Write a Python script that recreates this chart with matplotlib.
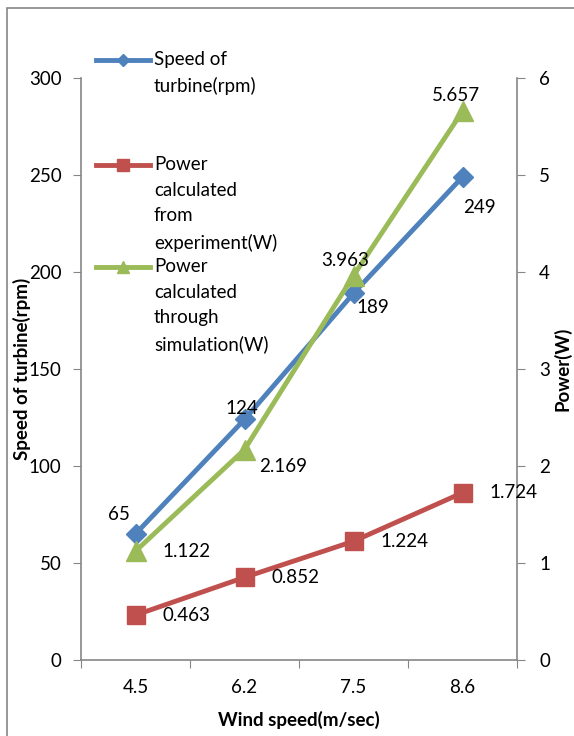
import matplotlib
matplotlib.use("Agg")
import matplotlib.pyplot as plt
from matplotlib.lines import Line2D
from matplotlib.patches import Rectangle

categories = ["4.5", "6.2", "7.5", "8.6"]
speed_rpm = [65, 124, 189, 249]
power_exp = [0.463, 0.852, 1.224, 1.724]
power_sim = [1.122, 2.169, 3.963, 5.657]
speed_labels = ["65", "124", "189", "249"]
exp_labels = ["0.463", "0.852", "1.224", "1.724"]
sim_labels = ["1.122", "2.169", "3.963", "5.657"]
legend_names = ["Speed of\nturbine(rpm)",
                "Power\ncalculated\nfrom\nexperiment(W)",
                "Power\ncalculated\nthrough\nsimulation(W)"]

BLUE = "#4F81BD"
RED = "#C0504D"
GREEN = "#9BBB59"
GRAY = "#868686"

plt.rcParams['font.family'] = ['Lato', 'DejaVu Sans']
FS = 13.5

fig = plt.figure(figsize=(5.74, 7.36), dpi=100)
W, H = 574, 736
ax = fig.add_axes([81 / W, 1 - 660 / H, (517 - 81) / W, (660 - 78) / H])
ax2 = ax.twinx()

x = [i + 0.5 for i in range(len(categories))]

ax.set_xlim(0, 4)
ax.set_ylim(0, 300)
ax2.set_ylim(0, 6)
ax.set_yticks(range(0, 301, 50))
ax2.set_yticks(range(0, 7))

ax.set_xticks(range(0, 5))
ax.set_xticklabels([])
ax.set_xticks(x, minor=True)
ax.set_xticklabels(categories, minor=True)
ax.tick_params(axis='x', which='minor', length=0, pad=14, labelsize=FS)
ax.tick_params(axis='x', which='major', length=6, color=GRAY, direction='out')
ax.tick_params(axis='y', length=6, color=GRAY, labelsize=FS, pad=8)
ax2.tick_params(axis='y', length=6, color=GRAY, labelsize=FS, pad=10)

for a in (ax, ax2):
    for s in a.spines.values():
        s.set_visible(False)
ax.spines['left'].set_visible(True)
ax.spines['bottom'].set_visible(True)
ax2.spines['right'].set_visible(True)
for s in (ax.spines['left'], ax.spines['bottom'], ax2.spines['right']):
    s.set_color(GRAY)
    s.set_linewidth(1.2)

ax.plot(x, speed_rpm, color=BLUE, lw=3.5, marker='D', ms=10, zorder=3, clip_on=False)
ax2.plot(x, power_exp, color=RED, lw=3.5, marker='s', ms=13, zorder=3, clip_on=False)
ax2.plot(x, power_sim, color=GREEN, lw=3.5, marker='^', ms=14, zorder=3, clip_on=False)

# data labels (offsets in points)
speed_off = [(-12, 14), (-2, 8), (14, -10), (12, -22)]
for xi, yi, lab, off in zip(x, speed_rpm, speed_labels, speed_off):
    ax.annotate(lab, (xi, yi), xytext=off, textcoords='offset points',
                ha='center', va='center', fontsize=FS)
for xi, yi, lab in zip(x, power_exp, exp_labels):
    ax2.annotate(lab, (xi, yi), xytext=(37, 0), textcoords='offset points',
                 ha='center', va='center', fontsize=FS)
sim_off = [(37, 0), (28, -12), (-6, 11), (-5, 11)]
for xi, yi, lab, off in zip(x, power_sim, sim_labels, sim_off):
    ax2.annotate(lab, (xi, yi), xytext=off, textcoords='offset points',
                 ha='center', va='center', fontsize=FS)

ax.set_xlabel("Wind speed(m/sec)", fontsize=FS, fontweight='bold')
ax.set_ylabel("Speed of turbine(rpm)", fontsize=FS, fontweight='bold')
ax2.set_ylabel("Power(W)", fontsize=FS, fontweight='bold')
ax.xaxis.set_label_coords(0.5, -(720 - 660) / 582)
ax.yaxis.set_label_coords((22 - 81) / 436, 0.5)
ax2.yaxis.set_label_coords((562 - 81) / 436, 0.5)
ax.xaxis.label.set_va('center')
ax.yaxis.label.set_va('center')
ax2.yaxis.label.set_va('center')

# manual legend
leg_colors = [BLUE, RED, GREEN]
leg_markers = ['D', 's', '^']
leg_ms = [6, 8, 9]
leg_y = [60, 165, 267]
for c, m, ms, yy, name in zip(leg_colors, leg_markers, leg_ms, leg_y, legend_names):
    fig.add_artist(Line2D([96 / W, 150 / W], [1 - yy / H, 1 - yy / H], color=c, lw=3.5,
                          transform=fig.transFigure))
    fig.add_artist(Line2D([123 / W], [1 - yy / H], color=c, marker=m, ms=ms,
                          transform=fig.transFigure))
    fig.text(154 / W, 1 - (yy - 9) / H, name, ha='left', va='top', fontsize=FS,
             linespacing=1.62)

# chart border
fig.add_artist(Rectangle((7 / W, -0.05), 1.2, 1 - 8 / H + 0.05, transform=fig.transFigure,
                         fill=False, edgecolor=GRAY, lw=1.2))

fig.savefig("out.png", dpi=100)
